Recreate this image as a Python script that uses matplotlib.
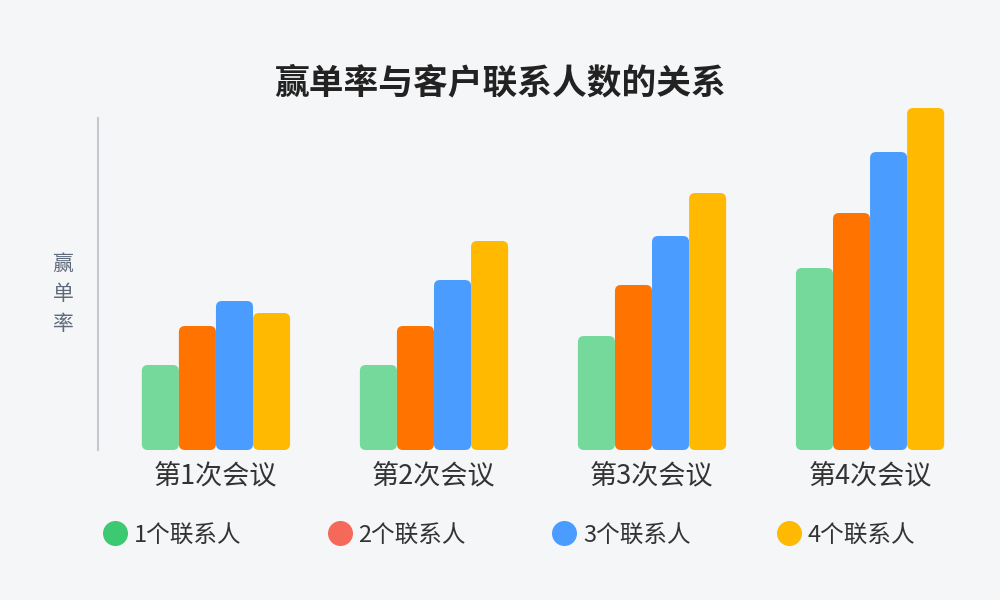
import numpy as np
import matplotlib.pyplot as plt
from matplotlib.patches import FancyBboxPatch
from matplotlib.lines import Line2D

plt.rcParams['font.family'] = ['Noto Sans CJK SC', 'DejaVu Sans']

# data
meetings = ['第1次会议', '第2次会议', '第3次会议', '第4次会议']
series_names = ['1个联系人', '2个联系人', '3个联系人', '4个联系人']
contact_1 = [8.5, 8.5, 11.4, 18.2]
contact_2 = [12.4, 12.4, 16.5, 23.7]
contact_3 = [14.9, 17.0, 21.4, 29.8]
contact_4 = [13.7, 20.9, 25.7, 34.2]
series = [contact_1, contact_2, contact_3, contact_4]

bar_colors = ['#74D99B', '#FF7300', '#4A9DFF', '#FFB900']
legend_colors = ['#3CC971', '#F5695A', '#4A9DFF', '#FFB900']
bg = '#F5F6F8'


def main():
    fig = plt.figure(figsize=(10, 6), dpi=100, facecolor=bg)
    ax = fig.add_axes([0.098, 0.25, 0.902, 0.5833])
    ax.set_facecolor(bg)

    x = np.arange(len(meetings))
    w = 0.17
    offsets = (np.arange(4) - 1.5) * w
    ax.set_xlim(-0.541, 3.596)
    ax.set_ylim(0, 35)

    # rounding: x units vs y units per pixel
    px_x = 0.541 / 118.0
    px_y = 35 / 350.0
    r = 6 * px_x
    aspect = px_y / px_x

    for vals, off, col in zip(series, offsets, bar_colors):
        bars = ax.bar(x + off, vals, width=w, color=col)
        for b in bars:
            b.set_visible(False)
            p = FancyBboxPatch((b.get_x(), 0), b.get_width(), b.get_height(),
                               boxstyle='round,pad=0,rounding_size=%f' % r,
                               mutation_aspect=aspect, fc=col, ec='none',
                               clip_on=False)
            ax.add_patch(p)

    for s in ['top', 'right', 'bottom']:
        ax.spines[s].set_visible(False)
    ax.spines['left'].set_color('#C4C7CC')
    ax.spines['left'].set_linewidth(1.5)
    ax.spines['left'].set_bounds(0, 33.2)
    ax.set_yticks([])
    ax.set_xticks(x)
    ax.set_xticklabels(meetings, fontsize=19.5, color='#333333')
    ax.tick_params(axis='x', length=0, pad=9)

    fig.text(0.063, 0.51, '赢\n单\n率', fontsize=15, color='#5F6B7A',
             ha='center', va='center', linespacing=1.5)
    fig.text(0.5, 0.862, '赢单率与客户联系人数的关系', fontsize=25,
             fontweight='bold', color='#222222', ha='center', va='center')

    handles = [Line2D([], [], ls='none', marker='o', markersize=17,
                      color=c) for c in legend_colors]
    fig.legend(handles, series_names, loc='center', bbox_to_anchor=(0.508, 0.108),
               ncol=4, frameon=False, fontsize=17, handletextpad=0.2,
               columnspacing=3.55, handlelength=1.2, labelcolor='#333333')

    fig.savefig('out.png', dpi=100, facecolor=bg)


if __name__ == '__main__':
    main()
